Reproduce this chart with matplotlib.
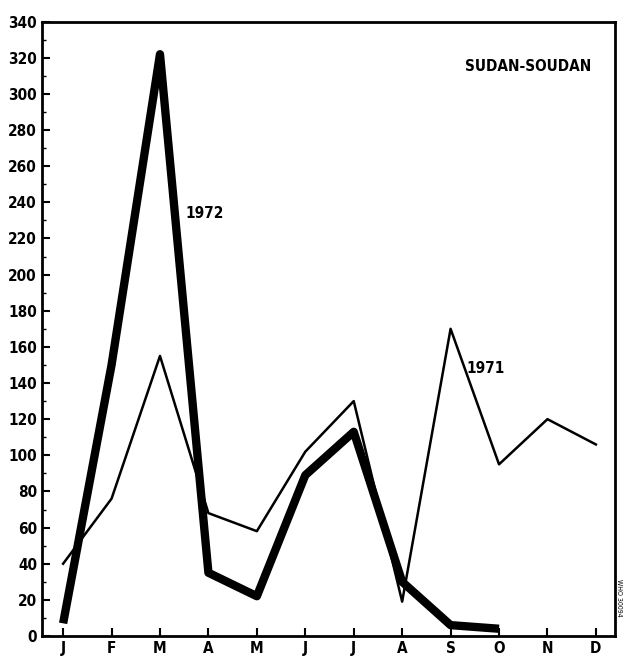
import matplotlib
matplotlib.use("Agg")
import matplotlib.pyplot as plt
from matplotlib.ticker import MultipleLocator

plt.rcParams['font.family'] = ['DejaVu Sans']
plt.rcParams['font.stretch'] = 'condensed'

months = ['J', 'F', 'M', 'A', 'M', 'J', 'J', 'A', 'S', 'O', 'N', 'D']
cases_1971 = [40, 76, 155, 68, 58, 102, 130, 19, 170, 95, 120, 106]
cases_1972 = [7, 150, 322, 35, 22, 89, 113, 30, 6, 4]

fig = plt.figure(figsize=(6.24, 6.57), dpi=100)
ax = fig.add_axes([0.067, 0.032, 0.919, 0.935])

x71 = list(range(len(cases_1971)))
x72 = list(range(len(cases_1972)))
ax.plot(x71, cases_1971, color='black', linewidth=1.8, solid_joinstyle='round')
ax.plot(x72, cases_1972, color='black', linewidth=6, solid_joinstyle='round',
        solid_capstyle='butt')

ax.set_xlim(-0.44, 11.4)
ax.set_ylim(0, 340)
ax.set_xticks(range(12))
ax.set_xticklabels(months)
ax.yaxis.set_major_locator(MultipleLocator(20))
ax.yaxis.set_minor_locator(MultipleLocator(10))
ax.tick_params(axis='both', direction='in', labelsize=11, width=1.5, length=6)
ax.tick_params(axis='y', which='minor', direction='in', length=3, width=1)
for lab in ax.get_xticklabels() + ax.get_yticklabels():
    lab.set_fontweight('bold')
    lab.set_fontstretch('condensed')
for s in ax.spines.values():
    s.set_linewidth(2)

ax.text(2.93, 234, '1972', fontsize=11, fontweight='bold', fontstretch='condensed',
        ha='center', va='center')
ax.text(8.72, 148, '1971', fontsize=11, fontweight='bold', fontstretch='condensed',
        ha='center', va='center')
ax.text(9.6, 315, 'SUDAN-SOUDAN', fontsize=11, fontweight='bold', fontstretch='condensed',
        ha='center', va='center')
fig.text(0.992, 0.09, 'WHO 30094', fontsize=5, rotation=-90, ha='center', va='center')

fig.savefig('out.png', dpi=100)
